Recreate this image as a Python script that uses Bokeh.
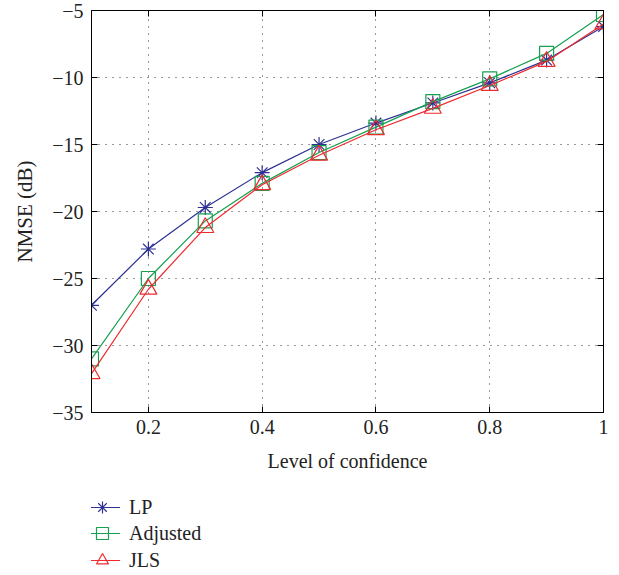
from bokeh.plotting import figure
from bokeh.layouts import column
from bokeh.models import FixedTicker, LinearAxis, Legend, LegendItem, Range1d
from bokeh.embed import file_html
from bokeh.resources import INLINE

confidence = [0.1, 0.2, 0.3, 0.4, 0.5, 0.6, 0.7, 0.8, 0.9, 1.0]
lp = [-27.0, -22.8, -19.7, -17.1, -15.0, -13.4, -11.9, -10.4, -8.7, -6.2]
adjusted = [-31.0, -25.0, -20.7, -17.9, -15.6, -13.7, -11.8, -10.1, -8.2, -5.3]
jls = [-32.1, -25.8, -21.2, -18.0, -15.8, -13.9, -12.3, -10.6, -8.8, -6.0]
x_ticks = [0.2, 0.4, 0.6, 0.8, 1.0]
x_tick_labels = ["0.2", "0.4", "0.6", "0.8", "1"]
y_ticks = [-35, -30, -25, -20, -15, -10, -5]
y_tick_labels = ["\u221235", "\u221230", "\u221225", "\u221220", "\u221215", "\u221210", "\u22125"]
series_names = ["LP", "Adjusted", "JLS"]

FONT = "Liberation Serif"
BLUE = "#2e3192"
GREEN = "#16a050"
RED = "#ee2a2e"

p = figure(width=619, height=480, x_range=Range1d(0.1, 1.0), y_range=Range1d(-35, -5),
           output_backend="svg", toolbar_location=None,
           min_border_left=91, min_border_right=16, min_border_top=10, min_border_bottom=68)
p.background_fill_color = "white"
p.border_fill_color = "white"
p.outline_line_color = "black"
p.outline_line_width = 1

xa = p.xaxis[0]
xa.ticker = FixedTicker(ticks=x_ticks)
xa.major_label_overrides = {t: l for t, l in zip(x_ticks, x_tick_labels)}
xa.axis_label = "Level of confidence"
ya = p.yaxis[0]
ya.ticker = FixedTicker(ticks=y_ticks)
ya.major_label_overrides = {t: l for t, l in zip(y_ticks, y_tick_labels)}
ya.axis_label = "NMSE (dB)"
for ax in (xa, ya):
    ax.major_tick_in = 6
    ax.major_tick_out = 0
    ax.minor_tick_line_color = None
    ax.axis_line_color = "black"
    ax.major_tick_line_color = "black"
    ax.major_label_text_font = FONT
    ax.major_label_text_font_size = "20px"
    ax.major_label_text_color = "#222222"
    ax.axis_label_text_font = FONT
    ax.axis_label_text_font_size = "20px"
    ax.axis_label_text_font_style = "normal"
    ax.axis_label_text_color = "#222222"
ya.axis_label_text_font_size = "21px"
xa.major_label_standoff = 7
xa.axis_label_standoff = 13
ya.major_label_standoff = 8
ya.axis_label_standoff = 12

top = LinearAxis(ticker=FixedTicker(ticks=x_ticks), major_tick_in=6, major_tick_out=0,
                 minor_tick_line_color=None, major_label_text_font_size="0px",
                 major_label_text_color=None, major_label_standoff=0)
right = LinearAxis(ticker=FixedTicker(ticks=y_ticks), major_tick_in=6, major_tick_out=0,
                   minor_tick_line_color=None, major_label_text_font_size="0px",
                   major_label_text_color=None, major_label_standoff=0)
p.add_layout(top, "above")
p.add_layout(right, "right")

p.xgrid.ticker = FixedTicker(ticks=x_ticks)
p.ygrid.ticker = FixedTicker(ticks=y_ticks)
for g in (p.xgrid, p.ygrid):
    g.grid_line_color = "#333333"
    g.grid_line_dash = "1 6"
    g.grid_line_width = 1


def draw(fig):
    r = []
    r.append(fig.line(confidence, lp, line_color=BLUE, line_width=1.2))
    r.append(fig.scatter(confidence, lp, marker="asterisk", size=15, line_color=BLUE, line_width=1.2))
    r.append(fig.line(confidence, adjusted, line_color=GREEN, line_width=1.2))
    r.append(fig.scatter(confidence, adjusted, marker="square", size=14, line_color=GREEN,
                         fill_color=None, line_width=1.2))
    r.append(fig.line(confidence, jls, line_color=RED, line_width=1.2))
    r.append(fig.scatter(confidence, jls, marker="triangle", size=17, line_color=RED,
                         fill_color=None, line_width=1.2))
    return r


draw(p)

# legend strip below the plot (its renderers lie outside its own ranges)
q = figure(width=619, height=95, x_range=Range1d(10, 11), y_range=Range1d(10, 11),
           output_backend="svg", toolbar_location=None,
           x_axis_location=None, y_axis_location=None,
           min_border_left=0, min_border_right=0, min_border_top=0, min_border_bottom=0)
q.grid.visible = False
q.outline_line_color = None
q.background_fill_color = "white"
q.border_fill_color = "white"
rq = draw(q)

offsets = [53, 27, 0]
for i, name in enumerate(series_names):
    lg = Legend(items=[LegendItem(label=name, renderers=[rq[2 * i], rq[2 * i + 1]])],
                location=(-7, offsets[i]), orientation="vertical")
    lg.border_line_color = None
    lg.background_fill_alpha = 0
    lg.label_text_font = FONT
    lg.label_text_font_size = "20px"
    lg.label_text_color = "#222222"
    lg.glyph_width = 36
    lg.glyph_height = 30
    lg.label_height = 23
    lg.label_standoff = 9
    lg.spacing = 0
    lg.padding = 0
    lg.margin = 0
    q.add_layout(lg, "center")

open("out.html", "w").write(file_html(column(p, q, spacing=0), INLINE))
